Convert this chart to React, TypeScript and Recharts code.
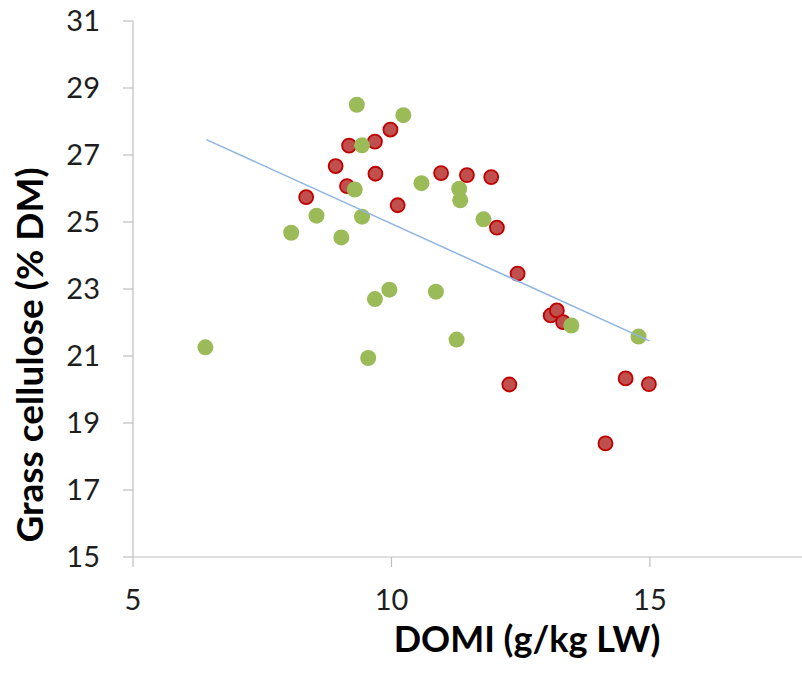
import { ScatterChart, Scatter, XAxis, YAxis } from 'recharts'

const greenX = [6.40, 8.06, 8.55, 9.03, 9.29, 9.33, 9.43, 9.43, 9.55, 9.68, 9.96, 10.23, 10.58, 10.86, 11.26, 11.31, 11.33, 11.78, 13.48, 14.78]
const greenY = [21.26, 24.68, 25.19, 24.54, 25.97, 28.50, 27.29, 25.16, 20.94, 22.70, 22.98, 28.19, 26.16, 22.92, 21.49, 25.99, 25.65, 25.08, 21.91, 21.58]

const redX = [8.35, 8.92, 9.14, 9.18, 9.68, 9.69, 9.98, 10.12, 10.96, 11.46, 11.93, 12.04, 12.28, 12.44, 13.08, 13.20, 13.32, 14.14, 14.53, 14.98]
const redY = [25.74, 26.67, 26.07, 27.28, 27.40, 26.44, 27.76, 25.50, 26.46, 26.40, 26.34, 24.83, 20.15, 23.46, 22.21, 22.36, 22.01, 18.39, 20.33, 20.16]

// linear trendline end points
const trendX = [6.42, 14.99]
const trendY = [27.46, 21.45]

const xTicks = [5, 10, 15]
const yTicks = [15, 17, 19, 21, 23, 25, 27, 29, 31]

const toPts = (xs: number[], ys: number[]) => xs.map((x, i) => ({ x, y: ys[i] }))
const green = toPts(greenX, greenY)
const red = toPts(redX, redY)
const trend = toPts(trendX, trendY)

const FONT = 'Lato, "Open Sans", sans-serif'
const AXIS = '#bfbfbf'
const TICK = { fontSize: 29, fill: '#1e1e1e', fontFamily: FONT }

const RedDot = (p: any) => (
  <circle cx={p.cx} cy={p.cy} r={7} fill="#C0504D" stroke="#C00000" strokeWidth={1.8} />
)
const GreenDot = (p: any) => <circle cx={p.cx} cy={p.cy} r={8} fill="#9BBB59" />

export default function App() {
  return (
    <div style={{ position: 'absolute', left: 0, top: 0, width: 802, height: 674, overflow: 'hidden', background: '#fff' }}>
      <ScatterChart width={805} height={674} margin={{ top: 21, right: 0, bottom: 0, left: 0 }}>
        <XAxis
          type="number"
          dataKey="x"
          domain={[5, 18]}
          ticks={xTicks}
          allowDataOverflow
          height={117}
          tickSize={10}
          tickMargin={22}
          tick={TICK}
          axisLine={{ stroke: AXIS, strokeWidth: 1.2 }}
          tickLine={{ stroke: AXIS, strokeWidth: 1.2 }}
          label={{
            content: () => (
              <text x={527} y={652} textAnchor="middle" fontSize={36} fontWeight={700} fontFamily={FONT} fill="#000">
                DOMI (g/kg LW)
              </text>
            ),
          }}
        />
        <YAxis
          type="number"
          dataKey="y"
          domain={[15, 31]}
          ticks={yTicks}
          allowDataOverflow
          width={133}
          tickSize={10}
          tickMargin={23}
          tick={TICK}
          axisLine={{ stroke: AXIS, strokeWidth: 1.2 }}
          tickLine={{ stroke: AXIS, strokeWidth: 1.2 }}
          label={{
            content: () => (
              <text
                x={43}
                y={355}
                transform="rotate(-90, 43, 355)"
                textAnchor="middle"
                fontSize={37}
                fontWeight={700}
                fontFamily={FONT}
                fill="#000"
              >
                Grass cellulose (% DM)
              </text>
            ),
          }}
        />
        <Scatter data={red} shape={RedDot} isAnimationActive={false} />
        <Scatter data={green} shape={GreenDot} isAnimationActive={false} />
        <Scatter
          data={trend}
          line={{ stroke: '#8EB4E3', strokeWidth: 1.5 }}
          shape={() => <g />}
          isAnimationActive={false}
        />
      </ScatterChart>
    </div>
  )
}
